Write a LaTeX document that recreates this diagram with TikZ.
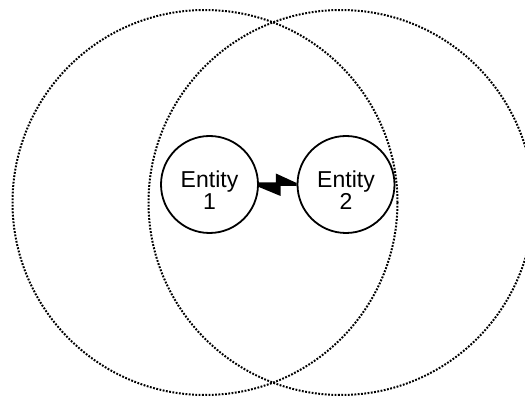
\documentclass[tikz,border=0pt]{standalone}
\usepackage{fontspec}
\setmainfont{Liberation Sans}
\usetikzlibrary{calc}
\newcommand{\lowered}[1]{\raisebox{-5.5pt}[\height][\depth]{#1}}
\begin{document}
\begin{tikzpicture}[x=1pt,y=-1pt,
  zone/.style={circle,draw,line width=2pt,dash pattern=on 1.8pt off 1.5pt,minimum size=385pt,inner sep=0pt},
  entity/.style={circle,draw,line width=1.8pt,minimum size=97pt,inner sep=0pt,align=center,font=\fontsize{23}{20}\selectfont}]
\useasboundingbox (0,0) rectangle (525,398);
\fill[white] (0,0) rectangle (525,398);
\begin{scope}
\clip (0,0) rectangle (525,398);
\node[zone] (z1) at (205,202.5) {};
\node[zone] (z2) at (341,202.5) {};
\end{scope}
\node[entity] (e1) at (209.5,184.5) {\lowered{Entity}\\\lowered{1}};
\node[entity] (e2) at (346,184.5) {\lowered{Entity}\\\lowered{2}};
\fill ($(e1.east)+(0,-2)$) -- ++(17,0) -- ++(0,-9) -- ($(e2.west)+(0,-1.5)$) -- ++(0,3) -- ++(-16,0) -- ++(0,10) -- ($(e1.east)+(0,2.5)$) -- cycle;
\end{tikzpicture}
\end{document}
